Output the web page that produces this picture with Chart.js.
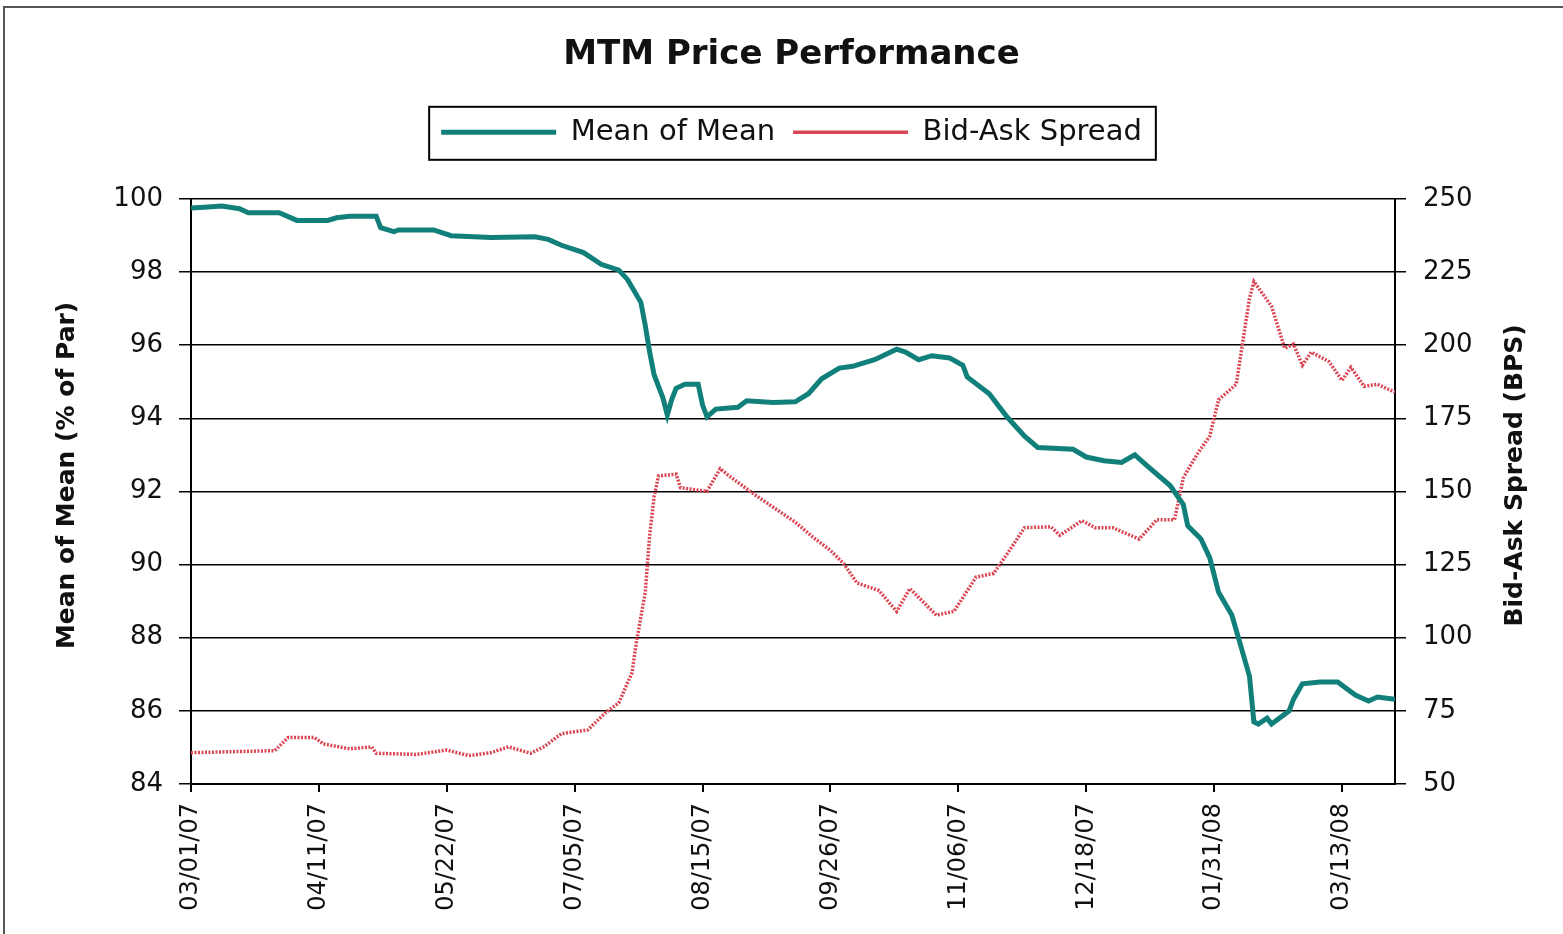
<!DOCTYPE html>
<html>
<head>
<meta charset="utf-8">
<title>MTM Price Performance</title>
<script src="https://cdn.jsdelivr.net/npm/chart.js@4.4.1/dist/chart.umd.min.js"></script>
<style>
  html, body { margin: 0; padding: 0; background: #fff; }
  #wrap { width: 1563px; height: 934px; }
</style>
</head>
<body>
<div id="wrap"><canvas id="myChart"></canvas></div>
<script>
// x axis is the trading-day index, a date label every 29 days
const tickLabels = ["03/01/07", "04/11/07", "05/22/07", "07/05/07", "08/15/07",
    "09/26/07", "11/06/07", "12/18/07", "01/31/08", "03/13/08"];
const labelStep = 29;
const lastDay = 273;

// Mean of Mean (% of Par), left axis
const meanDays = [0, 3, 7, 11, 13, 20, 24, 31, 33, 36, 42, 43, 46, 47, 55, 59, 68, 78, 81, 84,
    89, 93, 97, 99, 102, 103, 104, 105, 107, 108, 109, 110, 112, 115, 116, 117, 119, 124, 126, 132,
    137, 140, 143, 147, 150, 155, 160, 162, 165, 168, 172, 175, 176, 181, 185, 189, 192, 200, 203, 207,
    211, 214, 217, 222, 225, 226, 229, 231, 233, 236, 238, 240, 241, 242, 244, 245, 249, 250, 252, 256,
    260, 264, 267, 269, 273];
const meanValues = [99.75, 99.77, 99.8, 99.73, 99.62, 99.62, 99.41, 99.41, 99.48, 99.52, 99.52, 99.21, 99.1, 99.15, 99.15, 98.99, 98.94, 98.96, 98.89, 98.73,
    98.53, 98.21, 98.05, 97.79, 97.17, 96.54, 95.81, 95.19, 94.56, 94.09, 94.51, 94.82, 94.93, 94.93, 94.36, 94.04, 94.25, 94.3, 94.48, 94.43,
    94.45, 94.67, 95.08, 95.37, 95.42, 95.6, 95.89, 95.81, 95.6, 95.71, 95.65, 95.45, 95.13, 94.67, 94.04, 93.51, 93.2, 93.15, 92.94, 92.84,
    92.79, 93.0, 92.68, 92.16, 91.64, 91.06, 90.7, 90.18, 89.24, 88.62, 87.79, 86.95, 85.7, 85.64, 85.8, 85.64, 86.0, 86.32, 86.74, 86.79,
    86.79, 86.43, 86.27, 86.38, 86.32];

// Bid-Ask Spread (BPS), right axis
const spreadDays = [0, 19, 22, 28, 30, 36, 41, 42, 51, 58, 63, 68, 72, 77, 80, 84, 90, 94, 97, 100,
    101, 103, 104, 105, 106, 110, 111, 117, 120, 122, 128, 137, 141, 145, 148, 151, 156, 160, 163, 169,
    173, 178, 182, 185, 189, 195, 197, 202, 205, 209, 215, 219, 223, 225, 228, 231, 233, 237, 240, 241,
    245, 248, 250, 252, 254, 258, 261, 263, 266, 269, 273];
const spreadValues = [60.7, 61.4, 65.9, 65.9, 63.7, 62.0, 62.7, 60.5, 60.1, 61.6, 59.7, 60.7, 62.7, 60.5, 62.7, 67.2, 68.5, 74.4, 77.7, 88.1,
    98.5, 115.5, 135, 148.1, 155.3, 155.9, 151.3, 150.0, 157.8, 155.3, 148.7, 139.5, 134.4, 129.8, 125.3, 118.7, 116.1, 109, 116.8, 107.7,
    109, 120.7, 122, 128.5, 137.6, 137.9, 135, 140, 137.6, 137.6, 133.7, 140.3, 140.3, 154.6, 162.4, 168.9, 181.3, 186.6, 215.9, 221.7,
    213.3, 198.9, 200.3, 193.1, 197.6, 194.4, 187.9, 192.4, 185.9, 186.6, 183.9];

const leftTitle = "Mean of Mean (% of Par)";
const rightTitle = "Bid-Ask Spread (BPS)";

Chart.defaults.font.family = "'DejaVu Sans', sans-serif";
Chart.defaults.color = "#111";

// frame round the whole picture
const frame = {
    id: "frame",
    beforeDraw(chart) {
        const ctx = chart.ctx;
        ctx.save();
        ctx.fillStyle = "#fff";
        ctx.fillRect(0, 0, chart.width, chart.height);
        ctx.strokeStyle = "#555";
        ctx.lineWidth = 2;
        ctx.beginPath();
        ctx.moveTo(4, chart.height);
        ctx.lineTo(4, 7);
        ctx.lineTo(chart.width, 7);
        ctx.stroke();
        ctx.restore();
    },
};

// more room under the legend, then a box round its items
const legendBox = {
    id: "legendBox",
    beforeLayout(chart) {
        const legend = chart.legend;
        if (!legend || legend._spaced) return;
        const fit = legend.fit;
        legend.fit = function () {
            fit.call(this);
            this.height += 42;
        };
        legend._spaced = true;
    },
    afterDraw(chart) {
        const boxes = chart.legend.legendHitBoxes;
        if (!boxes || !boxes.length) return;
        const first = boxes[0];
        const last = boxes[boxes.length - 1];
        const ctx = chart.ctx;
        ctx.save();
        ctx.strokeStyle = "#000";
        ctx.lineWidth = 2;
        ctx.strokeRect(first.left - 12, first.top - 11, last.left + last.width + 14 - (first.left - 12), first.height + 24);
        ctx.restore();
    },
};

// both axis titles read upwards
const sideTitles = {
    id: "sideTitles",
    afterDraw(chart) {
        const ctx = chart.ctx;
        const midY = (chart.chartArea.top + chart.chartArea.bottom) / 2 - 16;
        ctx.save();
        ctx.fillStyle = "#111";
        ctx.font = "bold 25px 'DejaVu Sans'";
        ctx.textAlign = "center";
        ctx.textBaseline = "middle";
        [[leftTitle, chart.scales.y.left + 47], [rightTitle, chart.scales.y1.left + 120]].forEach(([text, x]) => {
            ctx.save();
            ctx.translate(x, midY);
            ctx.rotate(-Math.PI / 2);
            ctx.fillText(text, 0, 0);
            ctx.restore();
        });
        ctx.restore();
    },
};

const ctx = document.getElementById("myChart");
new Chart(ctx, {
    type: "line",
    data: {
        datasets: [
            {
                label: "Mean of Mean",
                data: meanDays.map((d, i) => ({ x: d, y: meanValues[i] })),
                yAxisID: "y",
                borderColor: "#12807a",
                backgroundColor: "#12807a",
                borderWidth: 5,
                pointRadius: 0,
                tension: 0,
            },
            {
                label: "Bid-Ask Spread",
                data: spreadDays.map((d, i) => ({ x: d, y: spreadValues[i] })),
                yAxisID: "y1",
                borderColor: "rgb(218, 70, 84)",
                backgroundColor: "rgb(218, 70, 84)",
                borderWidth: 3.5,
                borderDash: [2, 1.5],
                pointRadius: 0,
                tension: 0,
            },
        ],
    },
    options: {
        responsive: true,
        maintainAspectRatio: false,
        animation: false,
        layout: { padding: { left: 20, right: 0, top: 10, bottom: 0 } },
        plugins: {
            title: {
                display: true,
                text: "MTM Price Performance",
                color: "#111",
                font: { size: 34, weight: "bold" },
                padding: { top: 25, bottom: 24 },
            },
            legend: {
                labels: {
                    usePointStyle: true,
                    pointStyle: "line",
                    pointStyleWidth: 115,
                    padding: 18,
                    color: "#111",
                    font: { size: 29 },
                },
            },
            tooltip: { enabled: false },
        },
        scales: {
            x: {
                type: "linear",
                min: 0,
                max: lastDay,
                afterFit: (s) => { s.height = 150; },
                grid: { drawOnChartArea: false, color: "#000", lineWidth: 2, tickLength: 8 },
                border: { color: "#000", width: 2 },
                ticks: {
                    stepSize: labelStep,
                    includeBounds: false,
                    autoSkip: false,
                    minRotation: 90,
                    maxRotation: 90,
                    padding: 11,
                    color: "#111",
                    font: { size: 24 },
                    callback: (v) => tickLabels[Math.round(v / labelStep)],
                },
            },
            y: {
                position: "left",
                min: 84,
                max: 100,
                afterFit: (s) => { s.width = 171; },
                grid: { color: "#000", lineWidth: 1.5, tickLength: 12 },
                border: { color: "#000", width: 2 },
                ticks: { stepSize: 2, padding: 16, color: "#111", font: { size: 26 } },
            },
            y1: {
                position: "right",
                min: 50,
                max: 250,
                afterFit: (s) => { s.width = 168; },
                grid: { drawOnChartArea: false, color: "#000", lineWidth: 1.5, tickLength: 11 },
                border: { color: "#000", width: 2 },
                ticks: { stepSize: 25, padding: 17, color: "#111", font: { size: 26 } },
            },
        },
    },
    plugins: [frame, legendBox, sideTitles],
});
</script>
</body>
</html>
